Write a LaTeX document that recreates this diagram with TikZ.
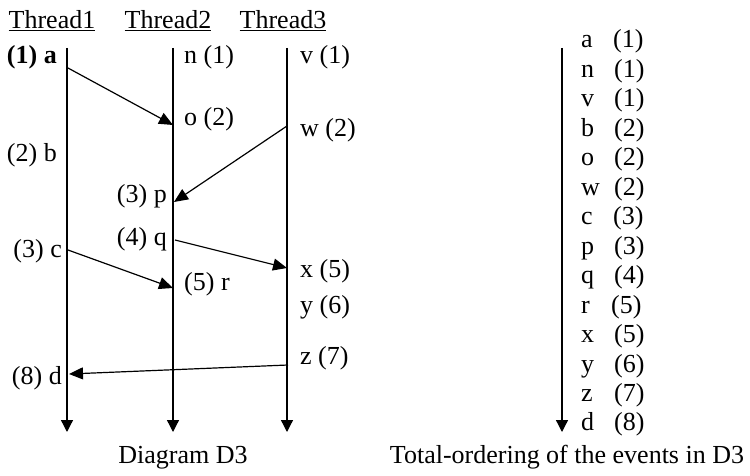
\documentclass[tikz,border=0pt]{standalone}
\usepackage{fontspec}
\setmainfont{Liberation Serif}
\usetikzlibrary{arrows.meta}
\begin{document}
\begin{tikzpicture}[x=1pt,y=-1pt,
  txt/.style={inner sep=0pt, font=\fontsize{26}{30}\selectfont},
  lbe/.style={txt, anchor=base east},
  lbw/.style={txt, anchor=base west},
  tl/.style={line width=1.3pt, -{Triangle[length=12pt,width=12pt]}},
  msg/.style={line width=1.2pt, -{Triangle[length=14pt,width=12pt]}}]
\useasboundingbox (0,0) rectangle (750,476);
% headers
\node[txt, anchor=base] (h1) at (52,29) {\underline{Thread1}};
\node[txt, anchor=base] (h2) at (168,29) {\underline{Thread2}};
\node[txt, anchor=base] (h3) at (283,29) {\underline{Thread3}};
% thread lines
\coordinate (t1top) at (67,48); \coordinate (t1bot) at (67,432);
\coordinate (t2top) at (173,48); \coordinate (t2bot) at (173,432);
\coordinate (t3top) at (287,48); \coordinate (t3bot) at (287,432);
\draw[tl] (t1top) -- (t1bot);
\draw[tl] (t2top) -- (t2bot);
\draw[tl] (t3top) -- (t3bot);
% labels thread 1
\node[lbe] (la) at (57,64) {\bfseries (1) a};
\node[lbe] (lb) at (57,161) {(2) b};
\node[lbe] (lc) at (62,257) {(3) c};
\node[lbe] (ld) at (62,384) {(8) d};
% labels thread 2
\node[lbw] (ln) at (184,64) {n (1)};
\node[lbw] (lo) at (184,126) {o (2)};
\node[lbe] (lp) at (167,202) {(3) p};
\node[lbe] (lq) at (167,245) {(4) q};
\node[lbw] (lr) at (184,290) {(5) r};
% labels thread 3
\node[lbw] (lv) at (300,64) {v (1)};
\node[lbw] (lw) at (300,137) {w (2)};
\node[lbw] (lx) at (300,277) {x (5)};
\node[lbw] (ly) at (300,313) {y (6)};
\node[lbw] (lz) at (300,364) {z (7)};
% event points
\coordinate (a) at (68,68);
\coordinate (o) at (173,125);
\coordinate (w) at (287,126);
\coordinate (p) at (174,202);
\coordinate (q) at (175,240);
\coordinate (x) at (287,268);
\coordinate (c) at (68,250);
\coordinate (r) at (173,288);
\coordinate (z) at (288,365);
\coordinate (d) at (69,374);
\draw[msg] (a) -- (o);
\draw[msg] (w) -- (p);
\draw[msg] (q) -- (x);
\draw[msg] (c) -- (r);
\draw[msg] (z) -- (d);
% total ordering
\coordinate (otop) at (562,48); \coordinate (obot) at (562,432);
\draw[tl] (otop) -- (obot);
\foreach \l/\n/\xn [count=\i from 0] in {a/1/613,n/1/614,v/1/614,b/2/614,o/2/614,w/2/614,c/3/613,p/3/614,q/4/614,r/5/611,x/5/614,y/6/614,z/7/614,d/8/614}{
  \node[lbw] (e\i) at (581,{48+29.46*\i}) {\l};
  \node[lbw] (n\i) at (\xn,{48+29.46*\i}) {(\n)};
}
% captions
\node[txt, anchor=base] (cap1) at (183,463) {Diagram D3};
\node[txt, anchor=base] (cap2) at (567,463) {Total-ordering of the events in D3};
\end{tikzpicture}
\end{document}
